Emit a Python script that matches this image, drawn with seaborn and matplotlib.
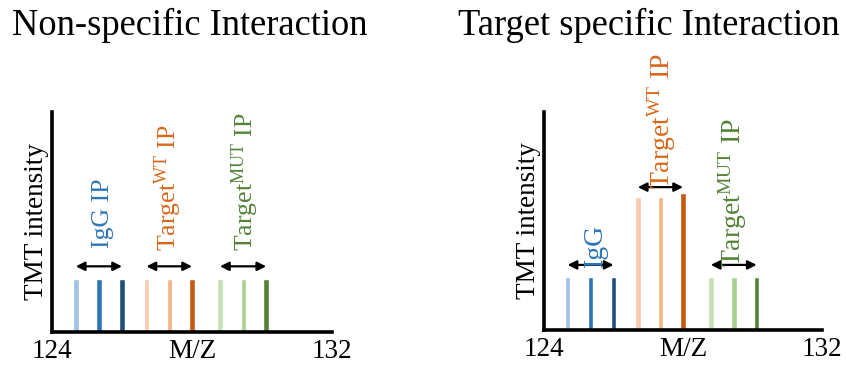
import matplotlib
matplotlib.use("Agg")
import matplotlib.pyplot as plt
import seaborn as sns
import pandas as pd

# TMT reporter channels (m/z positions)
mz = [124.68, 125.34, 126.0, 126.7, 127.35, 128.0, 128.8, 129.47, 130.12]
groups = ["IgG", "IgG", "IgG", "WT", "WT", "WT", "MUT", "MUT", "MUT"]
channel = ["c1", "c2", "c3", "c4", "c5", "c6", "c7", "c8", "c9"]
intensity_nonspec = [1, 1, 1, 1, 1, 1, 1, 1, 1]
intensity_spec = [1, 1, 1, 2.52, 2.52, 2.58, 1, 1, 1]

bar_colors = ["#9DC3E6", "#2E75B6", "#1F4E79",
              "#F8CBAD", "#F4B183", "#C55A11",
              "#C5E0B4", "#A9D18E", "#548235"]
text_colors = {"IgG": "#2E75B6", "WT": "#D9661A", "MUT": "#548235"}

xtick_pos = [124, 128, 132]
xtick_labels = ["124", "M/Z", "132"]

sns.set_style("white")
plt.rcParams["font.family"] = ["Liberation Serif", "DejaVu Serif"]
plt.rcParams["mathtext.fontset"] = "custom"
plt.rcParams["mathtext.rm"] = "Liberation Serif"
plt.rcParams["mathtext.it"] = "Liberation Serif:italic"
plt.rcParams["text.color"] = "black"
plt.rcParams["axes.labelcolor"] = "black"
plt.rcParams["xtick.color"] = "black"

fig = plt.figure(figsize=(8.46, 3.67), dpi=100)
W, H = 846, 367
ax1 = fig.add_axes([52 / W, (H - 332) / H, 280 / W, 220 / H])
ax2 = fig.add_axes([544 / W, (H - 330) / H, 278 / W, 218 / H])

palette = dict(zip(channel, bar_colors))


def panel(ax, heights, labels, arrow_y, lab_size):
    df = pd.DataFrame({"mz": mz, "y": heights, "ch": channel})
    sns.barplot(data=df, x="mz", y="y", hue="ch", palette=palette,
                native_scale=True, dodge=False, width=0.24, legend=False,
                saturation=1, ax=ax)
    ax.set_xlim(124, 132)
    ax.set_ylim(0, 4.12)
    for s in ["top", "right"]:
        ax.spines[s].set_visible(False)
    for s in ["left", "bottom"]:
        ax.spines[s].set_linewidth(2.6)
        ax.spines[s].set_color("black")
    ax.set_yticks([])
    ax.set_xticks(xtick_pos)
    ax.set_xticklabels(xtick_labels, fontsize=19.5)
    ax.tick_params(axis="x", length=0, pad=5)
    ax.set_xlabel("")
    ax.set_ylabel("TMT intensity", fontsize=19.5, labelpad=2)
    # group arrows
    for g, ay in zip(["IgG", "WT", "MUT"], arrow_y):
        xs = [m for m, gg in zip(mz, groups) if gg == g]
        ax.annotate("", xy=(xs[0], ay), xytext=(xs[-1], ay),
                    arrowprops=dict(arrowstyle="<|-|>", color="black",
                                    lw=1.6, mutation_scale=13,
                                    shrinkA=0, shrinkB=0))
    for txt, x, y, g in labels:
        ax.text(x, y, txt, rotation=90, ha="center", va="bottom",
                fontsize=lab_size, color=text_colors[g])


panel(ax1, intensity_nonspec,
      [("IgG IP", 125.46, 1.58, "IgG"),
       (r"Target$^{\mathrm{WT}}$ IP", 127.31, 1.51, "WT"),
       (r"Target$^{\mathrm{MUT}}$ IP", 129.51, 1.51, "MUT")],
      [1.23, 1.23, 1.23], 18.5)
panel(ax2, intensity_spec,
      [("IgG", 125.47, 1.2, "IgG"),
       (r"Target$^{\mathrm{WT}}$ IP", 127.38, 2.66, "WT"),
       (r"Target$^{\mathrm{MUT}}$ IP", 129.43, 1.2, "MUT")],
      [1.23, 2.70, 1.23], 20)

fig.text(12 / W, 1 - 25 / H, "Non-specific Interaction", fontsize=26.3,
         ha="left", va="center")
fig.text(840 / W, 1 - 25 / H, "Target specific Interaction", fontsize=26.3,
         ha="right", va="center")

fig.savefig("out.png", dpi=100)
